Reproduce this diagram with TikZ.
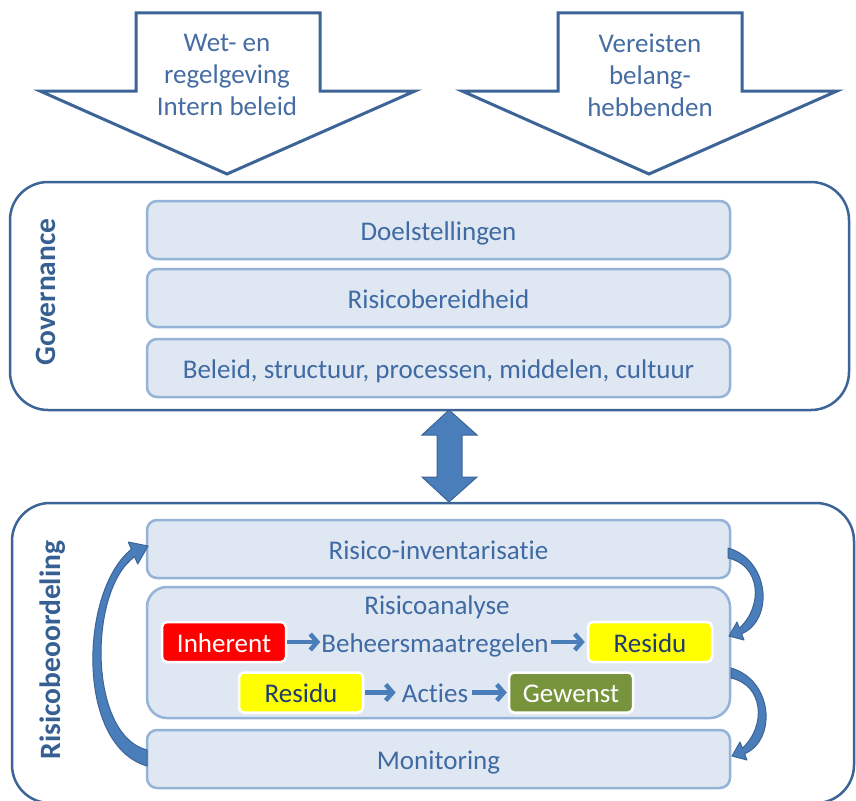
\documentclass[tikz,border=0pt]{standalone}
\usepackage{fontspec}
\setmainfont{Carlito}[Ligatures={NoCommon}]
\usetikzlibrary{arrows.meta,calc}
\definecolor{darkline}{HTML}{3C6496}
\definecolor{boxline}{HTML}{95B3D7}
\definecolor{boxfill}{HTML}{DFE7F2}
\definecolor{boxtext}{HTML}{3F6AA3}
\definecolor{headtext}{HTML}{466DA3}
\definecolor{labeltext}{HTML}{376092}
\definecolor{arrowblue}{HTML}{4A7EBB}
\definecolor{tagred}{HTML}{FF0000}
\definecolor{tagyellow}{HTML}{FFFF00}
\definecolor{taggreen}{HTML}{77933C}
\definecolor{navytext}{HTML}{1F3D6E}
\tikzset{
  bigtxt/.style={font=\fontsize{27}{32}\selectfont},
  sidelabel/.style={font=\bfseries\fontsize{29.5}{34}\selectfont, text=labeltext, rotate=90, anchor=base, inner sep=0pt},
  innerbox/.style={draw=boxline, fill=boxfill, line width=2.5pt, rounded corners=10pt,
    minimum width=583pt, minimum height=58pt, text=boxtext, bigtxt,
    text height=20pt, text depth=0pt, inner sep=0pt},
  outerbox/.style={draw=darkline, line width=2.5pt, rounded corners=38pt, fill=white},
  tagbox/.style={rounded corners=5pt, draw=white, line width=2.5pt, minimum width=124pt,
    minimum height=40pt, bigtxt, text height=20pt, text depth=0pt, inner sep=0pt},
  flowtxt/.style={bigtxt, text=boxtext, inner sep=0pt, text height=20pt, text depth=0pt},
  smallarrow/.style={draw=arrowblue, line width=4.5pt, -{Straight Barb[length=7pt,width=16pt]}},
  bentarrow/.style={fill=arrowblue, draw=darkline, line width=1pt, line join=round},
  downarrow/.style={draw=darkline, line width=3pt, fill=white, line join=miter},
}
\begin{document}
\begin{tikzpicture}[x=1pt,y=-1pt]
\useasboundingbox (0,0) rectangle (856,800);
% top arrows
\path[downarrow] (136,13) -- (320,13) -- (320,91) -- (415,91) -- (227,174) -- (40,91) -- (136,91) -- cycle;
\path[downarrow] (558,13) -- (742,13) -- (742,91) -- (837,91) -- (649,174) -- (462,91) -- (558,91) -- cycle;
\node[bigtxt, text=headtext, align=center] (wet) at (227,75) {Wet- en\\regelgeving\\Intern beleid};
\node[bigtxt, text=headtext, align=center] (ver) at (650,75) {Vereisten\\belang-\\hebbenden};
% governance
\node[outerbox, minimum width=839pt, minimum height=228pt] (gov) at (429.5,296) {};
\node[sidelabel] (govlab) at (55,292) {Governance};
\node[innerbox] (doel) at (438.5,230) {Doelstellingen};
\node[innerbox] (risb) at (438.5,298) {Risicobereidheid};
\node[innerbox] (bel) at (438.5,368) {Beleid, structuur, processen, middelen, cultuur};
% risk assessment
\node[outerbox, minimum width=842pt, minimum height=300pt] (risk) at (433,653) {};
\node[sidelabel] (risklab) at (60,650) {Risicobeoordeling};
\node[innerbox] (inv) at (438.5,549) {Risico-inventarisatie};
\node[innerbox, minimum height=131pt, rounded corners=20pt] (ana) at (438.5,652.5) {};
\node[innerbox] (mon) at (438.5,759) {Monitoring};
\node[bigtxt, text=boxtext, anchor=base, inner sep=0pt] (anatitle) at (437,614) {Risicoanalyse};
\node[tagbox, fill=tagred, text=white] (inh) at (224,642) {Inherent};
\node[flowtxt] (beh) at (435,642) {Beheersmaatregelen};
\node[tagbox, fill=tagyellow, text=navytext] (res1) at (650,642) {Residu};
\node[tagbox, fill=tagyellow, text=navytext] (res2) at (301,692.5) {Residu};
\node[flowtxt] (act) at (435,692.5) {Acties};
\node[tagbox, fill=taggreen, text=white] (gew) at (571,692.5) {Gewenst};
\draw[smallarrow, shorten >=1pt] (inh.east) -- (beh.west);
\draw[smallarrow, shorten <=2pt, shorten >=2pt] (beh.east) -- (res1.west);
\draw[smallarrow, shorten <=1pt, shorten >=6pt] (res2.east) -- (act.west);
\draw[smallarrow, shorten <=4pt, shorten >=1pt] (act.east) -- (gew.west);
% curved arrows
\path[bentarrow] (147,766) .. controls (75,745) and (80,590) .. (131.4,549.3)
  -- (128.3,542) -- (148,546) -- (137.7,564) -- (134.6,556.7)
  .. controls (88,590) and (88,735) .. (147,750) -- cycle;
\path[bentarrow] (728,548) .. controls (770,560) and (774,620) .. (741.6,633.8)
  -- (744,640) -- (729,636) -- (737,622) -- (739.4,628.2)
  .. controls (764,605) and (760,565) .. (728,558) -- cycle;
\path[bentarrow, shift={(3,120)}] (728,548) .. controls (770,560) and (774,620) .. (741.6,633.8)
  -- (744,640) -- (729,636) -- (737,622) -- (739.4,628.2)
  .. controls (764,605) and (760,565) .. (728,558) -- cycle;
% double arrow
\path[fill=arrowblue, draw=darkline, line width=1pt, line join=miter]
  (449,410) -- (477,435) -- (462,435) -- (462,477) -- (477,477) -- (449,502)
  -- (422,477) -- (437,477) -- (437,435) -- (422,435) -- cycle;
\end{tikzpicture}
\end{document}
